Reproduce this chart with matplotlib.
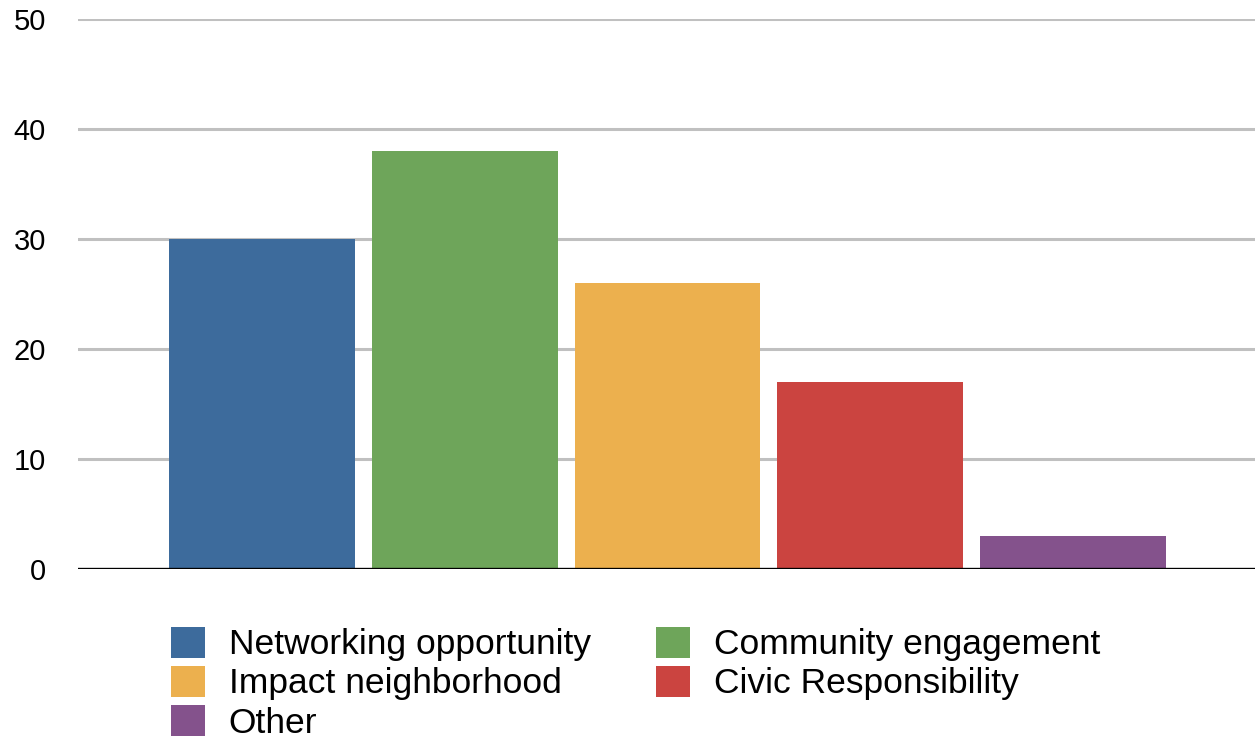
import matplotlib.pyplot as plt
from matplotlib.patches import Patch

categories = ['Networking opportunity', 'Community engagement', 'Impact neighborhood',
              'Civic Responsibility', 'Other']
values = [30, 38, 26, 17, 3]
colors = ['#3d6b9c', '#6ea55a', '#ecb04e', '#cb4440', '#84528c']

plt.rcParams['font.family'] = ['Liberation Sans', 'DejaVu Sans']

fig = plt.figure(figsize=(12.55, 7.42), dpi=100)
ax = fig.add_axes([78 / 1255, (742 - 569) / 742, 1 - 78 / 1255, 550 / 742])

x = range(len(values))
ax.bar(x, values, width=186 / 203, color=colors, zorder=3)

ax.set_xlim(-(262 - 78) / 203, 4 + (1255 - 1073) / 203)
ax.set_ylim(0, 50)
ax.set_yticks([0, 10, 20, 30, 40, 50])
ax.set_xticks([])
ax.yaxis.grid(True, color='#c0c0c0', linewidth=2.2, zorder=0)
ax.axhline(0, color='black', linewidth=2.4, zorder=4)
ax.tick_params(axis='y', length=0, pad=23, labelsize=21)
for s in ax.spines.values():
    s.set_visible(False)

handles = [Patch(facecolor=c, edgecolor='none') for c in colors]
# order so that ncol=2 fills rows left-to-right
order = [0, 2, 4, 1, 3]
fig.legend([handles[i] for i in order], [categories[i] for i in order],
           ncol=2, loc='upper left', bbox_to_anchor=(171 / 1255, 1 - 627 / 742),
           frameon=False, fontsize=25.5, borderpad=0, borderaxespad=0,
           handlelength=0.95, handleheight=0.95, handletextpad=0.68,
           columnspacing=1.85, labelspacing=0.13)

fig.savefig('out.png', dpi=100)
